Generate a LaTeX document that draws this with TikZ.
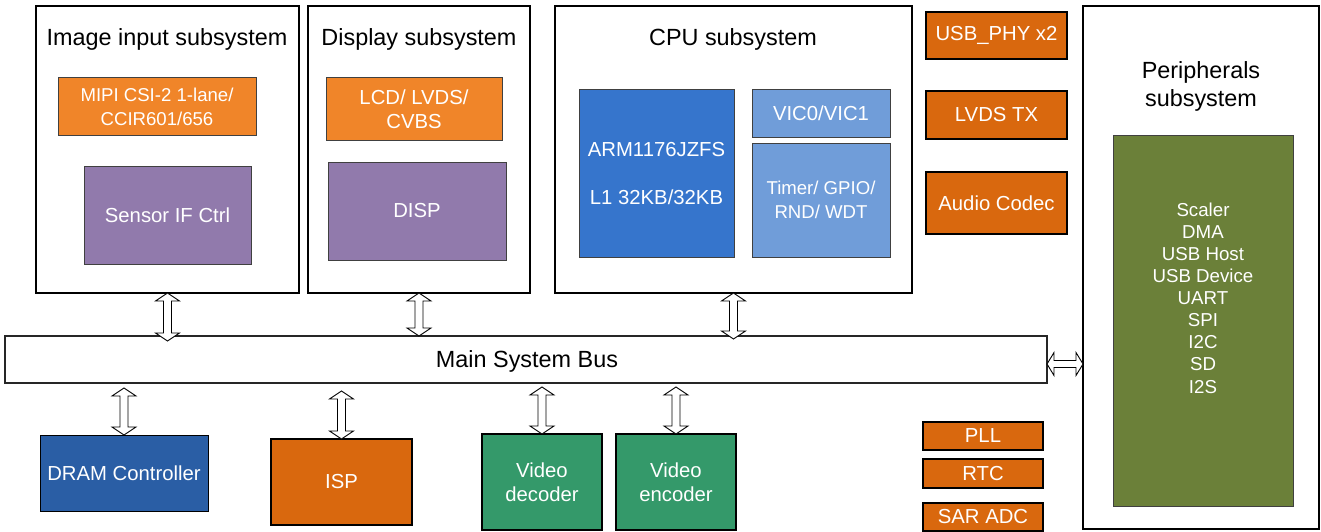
\documentclass[tikz,border=0pt]{standalone}
\usepackage{fontspec}
\setmainfont{Liberation Sans}
\usetikzlibrary{calc}
\definecolor{orangeL}{RGB}{240,133,41}
\definecolor{orangeD}{RGB}{217,104,14}
\definecolor{purp}{RGB}{145,122,172}
\definecolor{armblue}{RGB}{54,117,204}
\definecolor{ltblue}{RGB}{112,157,217}
\definecolor{dramblue}{RGB}{42,94,165}
\definecolor{vgreen}{RGB}{52,153,106}
\definecolor{olive}{RGB}{107,128,57}
\tikzset{
 rect/.style={rectangle, inner sep=0pt, outer sep=0pt, anchor=north west, align=center},
 sub/.style={rect, draw=black, line width=1.8pt, fill=white},
 inbox/.style={rect, draw=black!75, line width=1pt, text=white, font=\fontsize{20.3}{24}\selectfont},
 inboxs/.style={inbox, font=\fontsize{18.6}{24}\selectfont},
 hard/.style={rect, draw=black, line width=2pt, fill=orangeD, text=white, font=\fontsize{20.3}{24}\selectfont},
 titletext/.style={font=\fontsize{23.4}{27.5}\selectfont, align=center, inner sep=0pt},
 busarr/.style={draw=black, fill=white, line width=0.9pt, line join=miter},
}
% box from corners: style, name, x1, y1, x2, y2, text
\newcommand\bx[7]{\node[#1, minimum width={#5-#3}, minimum height={#6-#4}] (#2) at (#3,#4) {#7};}
% vertical hollow double arrow between two named tip coordinates
\newcommand\vdbl[2]{\draw[busarr] (#1) -- ++(12,8) -- ++(-8,0) -- ($(#2)+(4,-8)$) -- ++(8,0) -- (#2) -- ++(-12,-8) -- ++(8,0) -- ($(#1)+(-4,8)$) -- ++(-8,0) -- cycle;}
% horizontal hollow double arrow
\newcommand\hdbl[2]{\draw[busarr] (#1) -- ++(7,-11.5) -- ++(0,8) -- ($(#2)+(-7,-3.5)$) -- ++(0,-8) -- (#2) -- ++(-7,11.5) -- ++(0,-8) -- ($(#1)+(7,3.5)$) -- ++(0,8) -- cycle;}
\begin{document}
\begin{tikzpicture}[x=1pt, y=-1pt]
\useasboundingbox (0,0) rectangle (1321,532);
% Image input subsystem
\bx{sub}{img}{36}{6}{299}{293}{}
\node[titletext] (imgt) at (167,39) {Image input subsystem};
\bx{inboxs, fill=orangeL}{mipi}{58}{78}{256}{135}{MIPI CSI-2 1-lane/\\CCIR601/656}
\bx{inbox, fill=purp}{sensor}{84}{166}{251}{264}{Sensor IF Ctrl}
% Display subsystem
\bx{sub}{disp}{308}{6}{530}{293}{}
\node[titletext] (dispt) at (419,39) {Display subsystem};
\bx{inbox, fill=orangeL}{lcd}{326}{78}{502}{140}{LCD/ LVDS/\\CVBS}
\bx{inbox, fill=purp}{dispc}{328}{162}{506}{260}{DISP}
% CPU subsystem
\bx{sub}{cpu}{555}{6}{912}{293}{}
\node[titletext] (cput) at (733,39) {CPU subsystem};
\bx{inbox, fill=armblue}{arm}{579}{90}{734}{257}{ARM1176JZFS\\[24pt]L1 32KB/32KB}
\bx{inbox, fill=ltblue}{vic}{752}{90}{890}{137}{VIC0/VIC1}
\bx{inboxs, fill=ltblue}{timer}{752}{143}{890}{257}{Timer/ GPIO/\\RND/ WDT}
% right column blocks
\bx{hard}{usbphy}{926}{12}{1067}{59}{USB\_PHY x2}
\bx{hard}{lvdstx}{926}{91}{1067}{139}{LVDS TX}
\bx{hard}{audio}{926}{172}{1067}{234}{Audio Codec}
% Peripherals subsystem
\bx{sub}{peri}{1083}{6}{1319}{529}{}
\node[titletext] (perit) at (1201,86.5) {Peripherals\\subsystem};
\bx{inbox, fill=olive}{pgreen}{1113}{135}{1293}{506}{}
\node[align=center, inner sep=0pt, text=white, font=\fontsize{18.7}{22.1}\selectfont] (plist) at (1203,298)
 {Scaler\\DMA\\USB Host\\USB Device\\UART\\SPI\\I2C\\SD\\I2S};
% Main bus
\bx{sub, draw=black!85}{bus}{5}{336}{1047}{383}{}
\node[titletext] (bust) at (527,361) {Main System Bus};
% bottom blocks
\bx{inbox, draw=black, fill=dramblue}{dram}{40}{435}{208}{511}{DRAM Controller}
\bx{hard}{isp}{271}{439}{412}{525}{ISP}
\bx{inbox, draw=black, line width=1.5pt, fill=vgreen}{vdec}{482}{434}{602}{530}{Video\\decoder}
\bx{inbox, draw=black, line width=1.5pt, fill=vgreen}{venc}{616}{434}{736}{530}{Video\\encoder}
\bx{hard}{pll}{923}{422}{1043}{450}{PLL}
\bx{hard}{rtc}{923}{459}{1043}{488}{RTC}
\bx{hard}{sar}{923}{503}{1043}{531}{SAR ADC}
% arrow end points
\coordinate (a1t) at (img.south);
\coordinate (a1b) at ($(bus.north -| img.south)+(0,5)$);
\coordinate (a2t) at (disp.south);
\coordinate (a2b) at (bus.north -| disp.south);
\coordinate (a3t) at (cpu.south);
\coordinate (a3b) at ($(bus.north -| cpu.south)+(0,3)$);
\coordinate (b1t) at ($(bus.south -| dram.north)+(0,5)$);
\coordinate (b1b) at (dram.north);
\coordinate (b2t) at ($(bus.south -| isp.north)+(0,8)$);
\coordinate (b2b) at (isp.north);
\coordinate (b3t) at ($(bus.south -| vdec.north)+(0,4)$);
\coordinate (b3b) at (vdec.north);
\coordinate (b4t) at ($(bus.south -| venc.north)+(0,4)$);
\coordinate (b4b) at (venc.north);
\coordinate (hl) at ($(bus.east)+(0,4.5)$);
\coordinate (hr) at (hl -| peri.west);
% connectors
\vdbl{a1t}{a1b}
\vdbl{a2t}{a2b}
\vdbl{a3t}{a3b}
\vdbl{b1t}{b1b}
\vdbl{b2t}{b2b}
\vdbl{b3t}{b3b}
\vdbl{b4t}{b4b}
\hdbl{hl}{hr}
\end{tikzpicture}
\end{document}
